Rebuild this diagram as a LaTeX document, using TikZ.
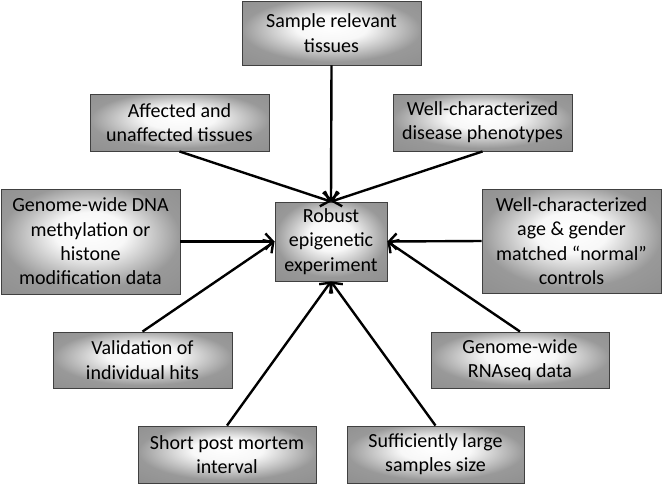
\documentclass[tikz,border=0pt]{standalone}
\usepackage{fontspec}
\setmainfont{Carlito}
\usetikzlibrary{arrows.meta}
\pgfdeclareradialshading{boxshade}{\pgfpoint{0bp}{5bp}}{%
  color(0bp)=(white);
  color(10bp)=(white!97!black);
  color(25bp)=(black!40);
  color(50bp)=(black!48)}
\tikzset{
  box/.style={draw=black!75, line width=0.9pt, shading=boxshade,
    align=center, inner sep=0pt, text=black,
    font=\fontsize{20}{24.3}\selectfont},
  conn/.style={line width=2.4pt, -{Straight Barb[length=7.5pt,width=16pt,line width=2.4pt]}}
}
\begin{document}
\begin{tikzpicture}[x=1pt,y=-1pt]
\useasboundingbox (0,0) rectangle (662,483);
\node[box, minimum width=179pt, minimum height=64pt] (top) at (331.5,33) {Sample relevant\\tissues};
\node[box, minimum width=179pt, minimum height=57pt] (aff) at (179.5,122.5) {Affected and\\unaffected tissues};
\node[box, minimum width=179pt, minimum height=57pt] (dis) at (482.5,122.5) {Well-characterized\\disease phenotypes};
\node[box, minimum width=179pt, minimum height=105pt] (dna) at (90.5,241.5) {Genome-wide DNA\\methylation or\\histone\\modification data};
\node[box, minimum width=112pt, minimum height=79pt] (ctr) at (331,241.5) {Robust\\epigenetic\\experiment};
\node[box, minimum width=179pt, minimum height=104pt] (age) at (571.5,241) {Well-characterized\\age \& gender\\matched “normal”\\controls};
\node[box, minimum width=179pt, minimum height=56pt] (val) at (142.5,360) {Validation of\\individual hits};
\node[box, minimum width=178pt, minimum height=56pt] (rna) at (520,360) {Genome-wide\\RNAseq data};
\node[box, minimum width=178pt, minimum height=57pt] (sht) at (227,454.5) {Short post mortem\\interval};
\node[box, minimum width=177pt, minimum height=57pt] (suf) at (435.5,454.5) {Sufficiently large\\samples size};
\draw[conn] (top.south) -- (ctr.north);
\draw[conn] (aff.south) -- (ctr.north);
\draw[conn] (dis.south) -- (ctr.north);
\draw[conn] (dna.east) -- (ctr.west);
\draw[conn] (age.west) -- (ctr.east);
\draw[conn] (val.north) -- (ctr.west);
\draw[conn] (rna.north) -- (ctr.east);
\draw[conn] (sht.north) -- (ctr.south);
\draw[conn] (suf.north) -- (ctr.south);
\end{tikzpicture}
\end{document}
